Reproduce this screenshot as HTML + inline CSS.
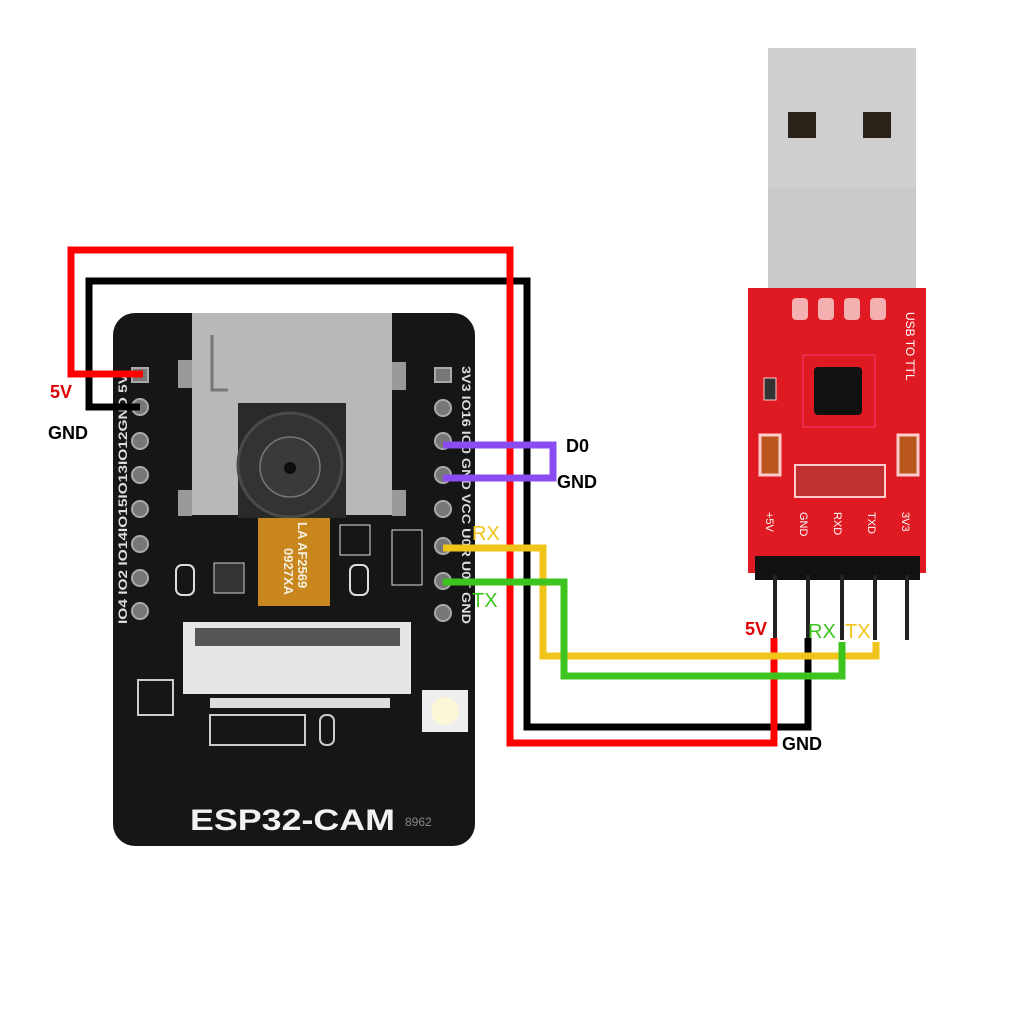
<!DOCTYPE html>
<html><head><meta charset="utf-8"><style>html,body{margin:0;padding:0;background:#fff}svg{display:block}</style></head>
<body>
<svg width="1024" height="1024" viewBox="0 0 1024 1024" xmlns="http://www.w3.org/2000/svg" font-family="Liberation Sans, sans-serif">
<rect width="1024" height="1024" fill="#fff"/>
<!-- ESP32 board -->
<rect x="113" y="313" width="362" height="533" rx="22" fill="#161616"/>
<!-- SD card -->
<rect x="192" y="313" width="200" height="202" fill="#b8b8b8"/>
<rect x="178" y="360" width="14" height="28" fill="#999"/>
<rect x="392" y="362" width="14" height="28" fill="#999"/>
<rect x="178" y="490" width="14" height="26" fill="#999"/>
<rect x="392" y="490" width="14" height="26" fill="#999"/>
<path d="M212 335 V390 H228" stroke="#777" stroke-width="3" fill="none"/>
<!-- camera -->
<rect x="238" y="403" width="108" height="115" fill="#2a2a2a"/>
<circle cx="290" cy="465" r="52" fill="#333" stroke="#4a4a4a" stroke-width="3"/>
<circle cx="290" cy="467" r="30" fill="#3a3a3a" stroke="#777" stroke-width="1.5"/>
<circle cx="290" cy="468" r="6" fill="#0c0c0c"/>
<!-- ribbon -->
<rect x="258" y="518" width="72" height="88" fill="#c8861c"/>
<text transform="translate(298,522) rotate(90)" font-size="13" font-weight="bold" fill="#f4efe0">LA AF2569</text>
<text transform="translate(284,548) rotate(90)" font-size="13" font-weight="bold" fill="#f4efe0">0927XA</text>
<!-- components -->
<rect x="176" y="565" width="18" height="30" rx="6" fill="none" stroke="#ddd" stroke-width="2"/>
<rect x="214" y="563" width="30" height="30" fill="#333" stroke="#ccc"/>
<rect x="350" y="565" width="18" height="30" rx="6" fill="none" stroke="#ddd" stroke-width="2"/>
<rect x="340" y="525" width="30" height="30" fill="none" stroke="#ddd"/>
<rect x="392" y="530" width="30" height="55" fill="none" stroke="#ddd"/>
<!-- connector -->
<rect x="183" y="622" width="228" height="72" fill="#e6e6e6"/>
<rect x="195" y="628" width="205" height="18" fill="#555"/>
<rect x="210" y="698" width="180" height="10" fill="#ddd"/>
<rect x="210" y="715" width="95" height="30" fill="none" stroke="#ccc" stroke-width="2"/>
<rect x="320" y="715" width="14" height="30" rx="6" fill="none" stroke="#ccc" stroke-width="2"/>
<rect x="138" y="680" width="35" height="35" fill="none" stroke="#ccc" stroke-width="2"/>
<!-- LED -->
<rect x="422" y="690" width="46" height="42" fill="#eee"/>
<circle cx="445" cy="711" r="14" fill="#fbf7d6"/>
<!-- pins -->
<g fill="#777" stroke="#aaa" stroke-width="2">
<rect x="132" y="368" width="16" height="14"/>
<circle cx="140" cy="407" r="8"/><circle cx="140" cy="441" r="8"/><circle cx="140" cy="475" r="8"/>
<circle cx="140" cy="509" r="8"/><circle cx="140" cy="544" r="8"/><circle cx="140" cy="578" r="8"/><circle cx="140" cy="611" r="8"/>
<rect x="435" y="368" width="16" height="14"/>
<circle cx="443" cy="408" r="8"/><circle cx="443" cy="441" r="8"/><circle cx="443" cy="475" r="8"/>
<circle cx="443" cy="509" r="8"/><circle cx="443" cy="546" r="8"/><circle cx="443" cy="581" r="8"/><circle cx="443" cy="613" r="8"/>
</g>
<text transform="translate(127,624) rotate(-90)" font-size="12" font-weight="bold" fill="#ddd" textLength="250" lengthAdjust="spacingAndGlyphs">IO4 IO2 IO14IO15IO13IO12GND 5V</text>
<text transform="translate(462,366) rotate(90)" font-size="12" font-weight="bold" fill="#ddd" textLength="258" lengthAdjust="spacingAndGlyphs">3V3 IO16 IO0 GND VCC U0R U0T GND</text>
<text x="190" y="830" font-size="30" font-weight="bold" fill="#f2f2f2" textLength="205" lengthAdjust="spacingAndGlyphs">ESP32-CAM</text>
<text x="405" y="826" font-size="12" fill="#888">8962</text>

<!-- USB adapter -->
<rect x="768" y="48" width="148" height="250" fill="#c9c9c9"/>
<rect x="768" y="48" width="148" height="140" fill="#cfcfcf"/>
<rect x="788" y="112" width="28" height="26" fill="#2a2118"/>
<rect x="863" y="112" width="28" height="26" fill="#2a2118"/>
<rect x="748" y="288" width="178" height="285" fill="#e01a22"/>
<g fill="#f4b0b0"><rect x="792" y="298" width="16" height="22" rx="4"/><rect x="818" y="298" width="16" height="22" rx="4"/><rect x="844" y="298" width="16" height="22" rx="4"/><rect x="870" y="298" width="16" height="22" rx="4"/></g>
<rect x="803" y="355" width="72" height="72" fill="none" stroke="#f6c" stroke-opacity=".5"/>
<rect x="814" y="367" width="48" height="48" rx="4" fill="#111"/>
<rect x="764" y="378" width="12" height="22" fill="#333" stroke="#fcc"/>
<rect x="760" y="435" width="20" height="40" fill="#b8561c" stroke="#fcc" stroke-width="3"/>
<rect x="898" y="435" width="20" height="40" fill="#b8561c" stroke="#fcc" stroke-width="3"/>
<rect x="795" y="465" width="90" height="32" fill="#c03030" stroke="#fcc" stroke-width="2"/>
<text transform="translate(906,312) rotate(90)" font-size="12" fill="#fff">USB TO TTL</text>
<g font-size="11" fill="#fff"><text transform="translate(766,512) rotate(90)">+5V</text><text transform="translate(800,512) rotate(90)">GND</text><text transform="translate(834,512) rotate(90)">RXD</text><text transform="translate(868,512) rotate(90)">TXD</text><text transform="translate(902,512) rotate(90)">3V3</text></g>
<rect x="755" y="556" width="165" height="24" fill="#111"/>
<g stroke="#222" stroke-width="4"><line x1="775" y1="575" x2="775" y2="640"/><line x1="808" y1="575" x2="808" y2="640"/><line x1="842" y1="575" x2="842" y2="640"/><line x1="875" y1="575" x2="875" y2="640"/><line x1="907" y1="575" x2="907" y2="640"/></g>

<!-- wires -->
<g fill="none" stroke-width="7" stroke-linejoin="miter">
<path d="M140 407 H89 V281 H527 V727 H808 V638" stroke="#000"/>
<path d="M143 374 H71 V250 H510 V743 H774 V638" stroke="#f00"/>
<path d="M443 445 H553 V478 H443" stroke="#8a4cf0"/>
<path d="M443 548 H543 V656 H876 V642" stroke="#f0c419"/>
<path d="M443 582 H564 V676 H842 V642" stroke="#3ec41e"/>
</g>

<!-- labels -->
<g font-weight="bold" font-size="18">
<text x="50" y="398" fill="#d00">5V</text>
<text x="48" y="439" fill="#000">GND</text>
<text x="566" y="452" fill="#000">D0</text>
<text x="557" y="488" fill="#000">GND</text>
<text x="745" y="635" fill="#d00">5V</text>
<text x="782" y="750" fill="#000">GND</text>
</g>
<g font-size="20">
<text x="472" y="540" fill="#f0c419">RX</text>
<text x="472" y="607" fill="#3ec41e">TX</text>
<text x="808" y="638" fill="#3ec41e">RX</text>
<text x="845" y="638" fill="#f0c419">TX</text>
</g>
</svg>
</body></html>
